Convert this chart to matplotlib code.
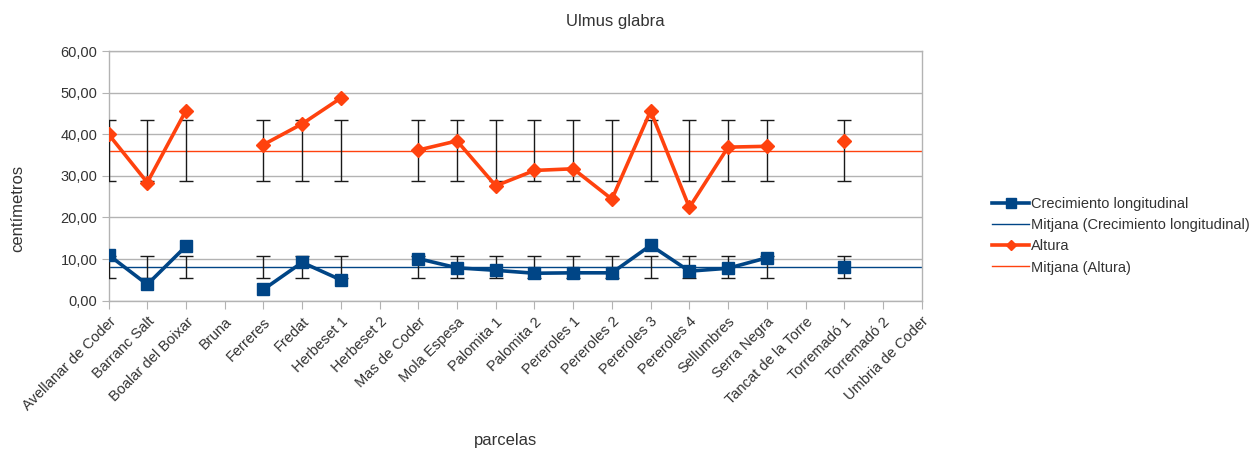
import numpy as np
import matplotlib
matplotlib.use("Agg")
import matplotlib.pyplot as plt
from matplotlib.ticker import FuncFormatter, MultipleLocator

plt.rcParams['font.family'] = ['Liberation Sans', 'DejaVu Sans']

parcelas = [
    "Avellanar de Coder", "Barranc Salt", "Boalar del Boixar", "Bruna",
    "Ferreres", "Fredat", "Herbeset 1", "Herbeset 2", "Mas de Coder",
    "Mola Espesa", "Palomita 1", "Palomita 2", "Pereroles 1", "Pereroles 2",
    "Pereroles 3", "Pereroles 4", "Sellumbres", "Serra Negra",
    "Tancat de la Torre", "Torremadó 1", "Torremadó 2", "Umbria de Coder",
]

nan = np.nan
crecimiento = [11.0, 3.9, 13.1, nan, 2.7, 9.2, 5.0, nan, 10.1, 7.9, 7.3, 6.6,
               6.7, 6.7, 13.3, 7.1, 7.8, 10.3, nan, 8.0, nan, nan]
altura = [40.0, 28.4, 45.7, nan, 37.5, 42.5, 48.7, nan, 36.2, 38.4, 27.6, 31.3,
          31.7, 24.4, 45.6, 22.4, 36.9, 37.1, nan, 38.4, nan, nan]

# standard deviation bars, drawn around each series mean
crec_sd = 2.7
alt_sd = 7.3

COL_CREC = "#004586"
COL_ALT = "#ff420e"
GRID = "#b3b3b3"
TXT = "#333333"

fig = plt.figure(figsize=(12.55, 4.53), dpi=100)
ax = fig.add_axes([0.0865, 0.3362, 0.6479, 0.5512])

x = np.arange(len(parcelas))
crec = np.array(crecimiento, dtype=float)
alt = np.array(altura, dtype=float)
crec_mean = np.nanmean(crec)
alt_mean = np.nanmean(alt)

ax.set_xlim(0, len(parcelas) - 1)
ax.set_ylim(0, 60)
ax.yaxis.set_major_locator(MultipleLocator(10))
ax.yaxis.set_major_formatter(FuncFormatter(lambda v, p: f"{v:.2f}".replace(".", ",")))
ax.grid(axis="y", color=GRID, lw=1)
ax.set_axisbelow(True)

for s in ax.spines.values():
    s.set_color(GRID)
    s.set_linewidth(1)

# error bars around the mean, only where a value exists
mc = ~np.isnan(crec)
ma = ~np.isnan(alt)
ax.errorbar(x[ma], np.full(ma.sum(), alt_mean), yerr=alt_sd, fmt="none",
            ecolor="#1a1a1a", elinewidth=1, capsize=5, capthick=1, zorder=3)
ax.errorbar(x[mc], np.full(mc.sum(), crec_mean), yerr=crec_sd, fmt="none",
            ecolor="#1a1a1a", elinewidth=1, capsize=5, capthick=1, zorder=3)

ax.plot(x, crec, color=COL_CREC, lw=2.6, marker="s", ms=9,
        label="Crecimiento longitudinal", zorder=4)
ax.axhline(crec_mean, color=COL_CREC, lw=1, label="Mitjana (Crecimiento longitudinal)", zorder=2)
ax.plot(x, alt, color=COL_ALT, lw=2.6, marker="D", ms=7,
        label="Altura", zorder=4)
ax.axhline(alt_mean, color=COL_ALT, lw=1, label="Mitjana (Altura)", zorder=2)

ax.set_xticks(x)
ax.set_xticklabels(parcelas, rotation=45, ha="right", rotation_mode="anchor",
                   fontsize=10.5, color=TXT)
ax.tick_params(axis="x", length=6, color=GRID, pad=4)
ax.tick_params(axis="y", length=5, color=GRID, labelsize=10.5, labelcolor=TXT, pad=3)

fig.text(0.490, 0.952, "Ulmus glabra", ha="center", va="center", fontsize=12, color=TXT)
fig.text(0.014, 0.539, "centímetros", ha="center", va="center", rotation=90,
         fontsize=12, color=TXT)
fig.text(0.403, 0.028, "parcelas", ha="center", va="center", fontsize=12, color=TXT)

leg = fig.legend(loc="upper left", bbox_to_anchor=(0.785, 0.582), frameon=False,
                 fontsize=10.5, handlelength=2.5, handletextpad=0.15,
                 labelspacing=0.5, borderpad=0)
for t in leg.get_texts():
    t.set_color(TXT)
for h in leg.legend_handles:
    if h.get_marker() == "s":
        h.set_markersize(7)
    elif h.get_marker() == "D":
        h.set_markersize(5)

fig.savefig("out.png", dpi=100, facecolor="white")
